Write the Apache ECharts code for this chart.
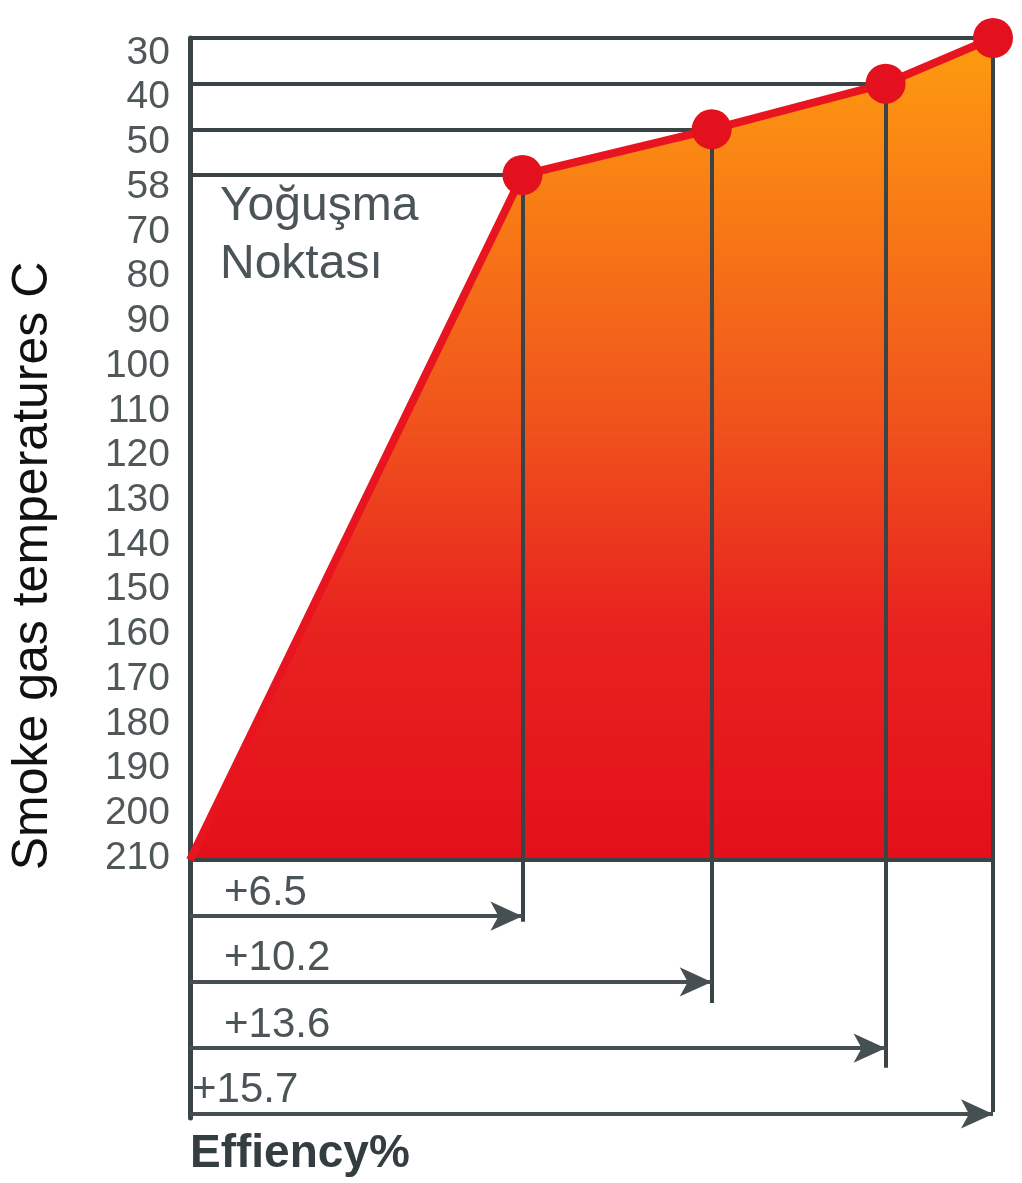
<!DOCTYPE html>
<html>
<head>
<meta charset="utf-8">
<title>Smoke gas temperature vs efficiency</title>
<script src="https://cdn.jsdelivr.net/npm/echarts@6/dist/echarts.min.js"></script>
<style>
  html, body { margin: 0; padding: 0; background: #fff; }
  #chart { width: 1022px; height: 1183px; }
</style>
</head>
<body>
<div id="chart"></div>
<script>
// temperature axis labels, top to bottom
const tempTicks = ['30', '40', '50', '58', '70', '80', '90', '100', '110', '120', '130', '140', '150', '160', '170', '180', '190', '200', '210'];
// efficiency gain (%) reached at each smoke gas temperature
const efficiency = [0, 6.5, 10.2, 13.6, 15.7];
const smokeTemp = [210, 58, 50, 40, 30];
const gainLabels = ['+6.5', '+10.2', '+13.6', '+15.7'];

// arrow block under the plot, in axis rows below the 210 line
const arrowRows = [-1.23, -2.67, -4.12, -5.56];
const dropEnds = [-1.35, -3.13, -4.55, -5.52];

const FONT = '"Liberation Sans", Arial, sans-serif';
const DARK = '#3a4446';

// row of a temperature, counted up from the 210 line
function row(t) {
  return tempTicks.length - 1 - tempTicks.indexOf(String(t));
}

const points = efficiency.map((e, i) => [e, row(smokeTemp[i])]);
const measured = points.slice(1);

const guides = [[{ coord: [0, 0] }, { coord: [efficiency[efficiency.length - 1], 0] }]];
measured.forEach((p, i) => {
  guides.push([{ coord: [0, p[1]] }, { coord: p }]);
  guides.push([{ coord: p }, { coord: [p[0], dropEnds[i]] }]);
});

const arrows = measured.map((p, i) => [
  {
    coord: [0, arrowRows[i]],
    label: { formatter: gainLabels[i], distance: [i === 3 ? 2 : 34, 2] }
  },
  { coord: [p[0], arrowRows[i]] }
]);

const chart = echarts.init(document.getElementById('chart'));

chart.setOption({
  animation: false,
  title: [
    {
      text: 'Yoğuşma\nNoktası',
      left: 220,
      top: 178,
      padding: 0,
      textStyle: { fontSize: 48, fontWeight: 'normal', color: '#4b5456', lineHeight: 58, fontFamily: FONT }
    },
    {
      text: 'Effiency%',
      left: 190,
      top: 1131,
      padding: 0,
      textStyle: { fontSize: 46, fontWeight: 'bold', color: '#343e41', fontFamily: FONT }
    }
  ],
  grid: [
    { left: 188, right: 29, top: 38, bottom: 65 },
    { left: 188, right: 29, top: 53, bottom: 325 } // only carries the tick labels
  ],
  xAxis: [
    { gridIndex: 0, type: 'value', min: 0, max: 15.7, show: false },
    { gridIndex: 1, type: 'value', min: 0, max: 1, show: false }
  ],
  yAxis: [
    {
      gridIndex: 0,
      type: 'value',
      min: -5.65,
      max: 18,
      axisLine: { show: true, lineStyle: { color: DARK, width: 5 } },
      axisTick: { show: false },
      axisLabel: { show: false },
      splitLine: { show: false },
      name: 'Smoke gas temperatures C',
      nameLocation: 'middle',
      nameGap: 132,
      nameTextStyle: { fontSize: 50, color: '#111', fontFamily: FONT, padding: [0, 0, 0, 24] }
    },
    {
      gridIndex: 1,
      type: 'category',
      data: tempTicks,
      inverse: true,
      boundaryGap: false,
      axisLine: { show: false },
      axisTick: { show: false },
      splitLine: { show: false },
      axisLabel: { interval: 0, fontSize: 39, color: '#4f5759', margin: 18, fontFamily: FONT }
    }
  ],
  series: [
    {
      name: 'fill',
      type: 'line',
      data: points,
      symbol: 'none',
      silent: true,
      z: 1,
      lineStyle: { width: 0 },
      areaStyle: {
        opacity: 1,
        color: new echarts.graphic.LinearGradient(0, 0, 0, 1, [
          { offset: 0, color: '#fd9c10' },
          { offset: 0.1, color: '#fb8c12' },
          { offset: 0.46, color: '#f0541c' },
          { offset: 0.71, color: '#e8231f' },
          { offset: 1, color: '#e3101a' }
        ])
      }
    },
    {
      name: 'guides',
      type: 'line',
      data: [],
      markLine: {
        silent: true,
        symbol: 'none',
        label: { show: false },
        lineStyle: { color: DARK, width: 4, type: 'solid' },
        data: guides
      }
    },
    {
      name: 'gains',
      type: 'line',
      data: [],
      markLine: {
        silent: true,
        symbol: ['none', 'arrow'],
        symbolSize: [22, 32],
        lineStyle: { color: '#465052', width: 4, type: 'solid' },
        label: {
          show: true,
          position: 'insideStartTop',
          fontSize: 42,
          color: '#4b5456',
          fontFamily: FONT
        },
        data: arrows
      }
    },
    {
      name: 'curve',
      type: 'line',
      data: points,
      z: 10,
      symbol: 'circle',
      symbolSize: (v, p) => (p.dataIndex === 0 ? 0 : 40),
      showAllSymbol: true,
      lineStyle: { color: '#e8141f', width: 8 },
      itemStyle: { color: '#e3101e' }
    }
  ]
});
</script>
</body>
</html>
